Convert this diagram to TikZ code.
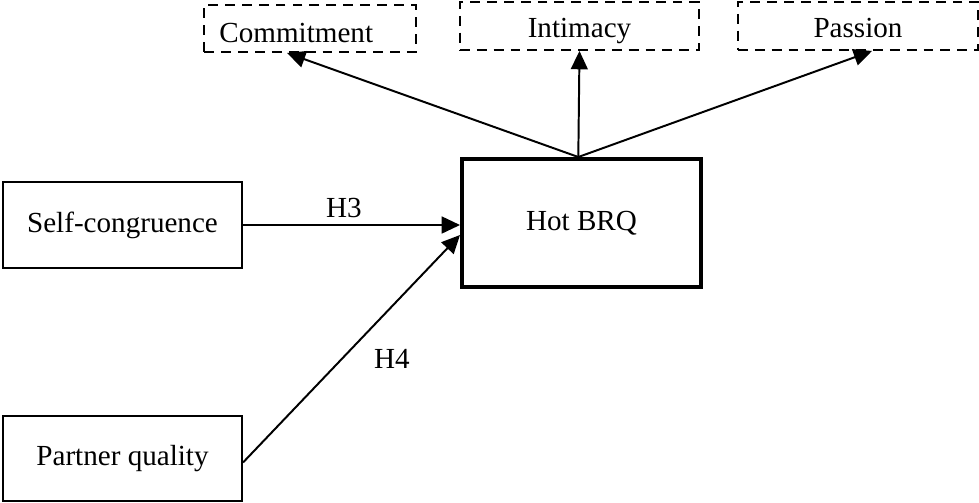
\documentclass[tikz,border=0pt]{standalone}
\usepackage{fontspec}
\setmainfont{Liberation Serif}
\usetikzlibrary{arrows.meta,positioning}
\begin{document}
\begin{tikzpicture}[x=0.025cm,y=-0.025cm,
    every node/.style={font=\fontsize{20.7}{25}\selectfont},
    cons/.style={draw,line width=1.4pt,minimum width=5.975cm,inner sep=0pt},
    dim/.style={draw,line width=1.4pt,dash pattern=on 7pt off 5pt,minimum height=1.2cm,inner sep=0pt,text height=17pt,text depth=0pt},
    hyp/.style={-{Triangle[length=13pt,width=12pt]},line width=1.4pt}]
              \useasboundingbox (0,0) rectangle (979,502);
              \node[dim,minimum width=5.275cm,minimum height=1.175cm,text width=4.525cm,inner xsep=0.375cm,align=left,text height=20.6pt] (commit) at (310,28.5) {Commitment};
              \node[dim,minimum width=5.975cm] (intim) at (579.5,26) {Intimacy};
              \node[dim,minimum width=6cm] (passion) at (858,26) {Passion};

              \node[cons,line width=2.8pt,minimum height=3.2cm] (hot) at (581.5,223) {Hot BRQ};
              \node[cons,minimum height=2.15cm] (self) at (122.5,225) {Self-congruence};
              \node[cons,minimum height=2.125cm] (partner) at (122.5,458.5) {Partner quality};

              \draw[hyp] (self.east) -- (hot.west |- self.east);
              \draw[hyp] ([yshift=-0.1cm]partner.east) -- ([yshift=-0.3cm]hot.west);
              \draw[hyp] ([xshift=-0.08cm]hot.north) -- ([xshift=-0.575cm]commit.south);
              \draw[hyp] ([xshift=-0.08cm]hot.north) -- (intim.south);
              \draw[hyp] ([xshift=-0.08cm]hot.north) -- ([xshift=0.35cm]passion.south);
              \node (h3) at (344,207.5) {H3};
              \node (h4) at (392,359) {H4};
            \end{tikzpicture}
\end{document}
